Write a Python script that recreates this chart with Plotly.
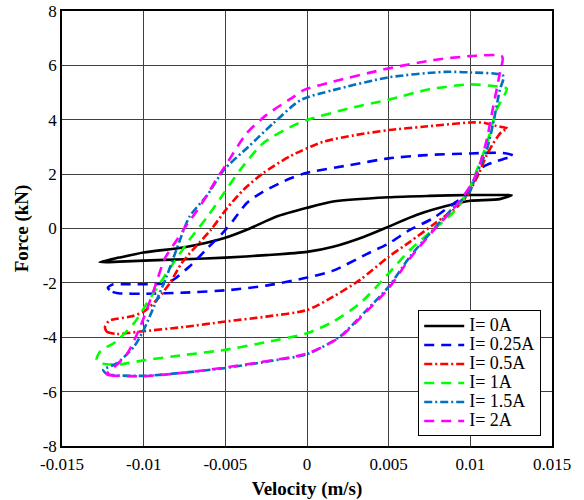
import plotly.graph_objects as go

# Force-velocity hysteresis loops of the damper at several coil currents.
# Each loop: lower branch (left -> right), then upper branch (right -> left).

v_0A = [-0.0127, -0.0115, -0.01, -0.0075, -0.005, -0.0025, 0.0, 0.0016, 0.0035, 0.005, 0.0067, 0.009, 0.01, 0.0118, 0.01253,
        0.0118, 0.01, 0.0075, 0.005, 0.0016, 0.0, -0.0019, -0.0035, -0.0051, -0.0075, -0.01, -0.0115, -0.0127]
f_0A = [-1.24, -1.22, -1.18, -1.13, -1.07, -0.98, -0.86, -0.67, -0.3, 0.07, 0.5, 0.9, 1.02, 1.08, 1.23,
        1.23, 1.23, 1.2, 1.15, 0.99, 0.76, 0.43, 0.0, -0.36, -0.69, -0.88, -1.07, -1.24]

v_025A = [-0.0122, -0.0119, -0.01155, -0.01, -0.0075, -0.0047, -0.0025, -0.0004, 0.0016, 0.00365, 0.005, 0.0063, 0.0077, 0.009,
          0.0096, 0.0102, 0.0108, 0.0115, 0.012, 0.01263,
          0.012, 0.01, 0.0073, 0.005, 0.0026, 0.0, -0.001, -0.0027, -0.0037, -0.0045, -0.0051, -0.0061, -0.0072, -0.0082,
          -0.0087, -0.0095, -0.011, -0.0119, -0.0122]
f_025A = [-2.18, -2.33, -2.38, -2.4, -2.36, -2.26, -2.1, -1.86, -1.55, -0.94, -0.55, -0.05, 0.37, 0.93,
          1.17, 1.75, 2.27, 2.45, 2.55, 2.68,
          2.78, 2.76, 2.7, 2.58, 2.33, 2.05, 1.85, 1.35, 0.93, 0.31, -0.12, -0.73, -1.4, -1.89,
          -2.01, -2.05, -2.05, -2.06, -2.18]

v_05A = [-0.01237, -0.01226, -0.01165, -0.0102, -0.0075, -0.0051, -0.0025, 0.0, 0.0016, 0.00325, 0.005, 0.0063, 0.0077, 0.0092,
         0.0098, 0.0105, 0.011, 0.0114, 0.0119, 0.01228,
         0.0116, 0.0108, 0.01, 0.0071, 0.005, 0.003, 0.001, -0.001, -0.0027, -0.0039, -0.0049, -0.0059, -0.007, -0.0077,
         -0.0084, -0.0092, -0.01, -0.0108, -0.0121, -0.01237]
f_05A = [-3.61, -3.79, -3.88, -3.79, -3.62, -3.43, -3.24, -3.0, -2.51, -1.89, -1.04, -0.49, 0.13, 0.8,
         1.2, 2.0, 2.7, 3.13, 3.55, 3.68,
         3.77, 3.89, 3.9, 3.74, 3.62, 3.44, 3.19, 2.67, 2.03, 1.42, 0.74, -0.06, -0.79, -1.3,
         -2.01, -2.63, -3.06, -3.24, -3.39, -3.61]

v_1A = [-0.01288, -0.0125, -0.0115, -0.01, -0.0075, -0.0051, -0.0025, 0.0, 0.0016, 0.00325, 0.005, 0.0063, 0.0077, 0.009,
        0.01, 0.0104, 0.0108, 0.0112, 0.0116, 0.01223,
        0.0118, 0.01, 0.0075, 0.005, 0.0026, 0.0, -0.001, -0.0027, -0.0041, -0.0051, -0.0061, -0.0072, -0.0081, -0.009,
        -0.0098, -0.0106, -0.0117, -0.01267, -0.01288]
f_1A = [-4.83, -4.97, -5.0, -4.85, -4.65, -4.47, -4.18, -3.85, -3.43, -2.75, -1.65, -0.79, -0.06, 0.62,
        1.54, 2.15, 2.76, 3.5, 4.36, 5.15,
        5.21, 5.3, 5.12, 4.74, 4.42, 3.99, 3.74, 3.13, 2.15, 1.29, 0.43, -0.42, -1.2, -2.01,
        -2.75, -3.49, -4.16, -4.53, -4.83]

v_15A = [-0.01247, -0.01226, -0.01, -0.0075, -0.0051, -0.0025, 0.0, 0.002, 0.00365, 0.005, 0.0063, 0.0077, 0.009,
         0.0099, 0.0104, 0.011, 0.0114, 0.0118, 0.01202,
         0.01, 0.0084, 0.005, 0.0016, -0.0004, -0.0021, -0.0036, -0.0051, -0.0061, -0.0072, -0.008, -0.0086,
         -0.0092, -0.01, -0.0106, -0.01165, -0.01247]
f_15A = [-5.2, -5.35, -5.42, -5.3, -5.14, -4.9, -4.62, -3.98, -3.0, -2.14, -1.04, -0.06, 0.8,
         1.29, 2.03, 2.89, 3.87, 5.09, 5.61,
         5.74, 5.76, 5.56, 5.09, 4.72, 3.85, 3.0, 2.15, 1.23, 0.43, -0.79, -1.77,
         -2.63, -3.73, -4.35, -4.96, -5.2]

v_2A = [-0.01226, -0.01206, -0.01, -0.0075, -0.0051, -0.0025, 0.0, 0.002, 0.00365, 0.005, 0.0063, 0.0077, 0.009,
        0.0101, 0.0106, 0.011, 0.0114, 0.0118, 0.01195,
        0.01, 0.0077, 0.005, 0.0016, -0.0002, -0.0008, -0.0025, -0.0037, -0.0049, -0.0055, -0.0062, -0.0068, -0.0074,
        -0.008, -0.0087, -0.0094, -0.0102, -0.011, -0.0118, -0.01226]
f_2A = [-5.35, -5.4, -5.43, -5.3, -5.12, -4.88, -4.6, -4.0, -3.05, -2.2, -1.1, -0.1, 0.75,
        1.66, 2.4, 3.25, 4.48, 5.7, 6.32,
        6.34, 6.19, 5.89, 5.4, 5.09, 4.85, 4.17, 3.5, 2.4, 1.85, 1.15, 0.6, 0.1,
        -0.45, -1.1, -2.3, -3.6, -4.6, -5.1, -5.35]

series_names = ["I= 0A", "I= 0.25A", "I= 0.5A", "I= 1A", "I= 1.5A", "I= 2A"]
series_v = [v_0A, v_025A, v_05A, v_1A, v_15A, v_2A]
series_f = [f_0A, f_025A, f_05A, f_1A, f_15A, f_2A]
series_colors = ["#000000", "#0000FF", "#FF0000", "#00FF00", "#0070C0", "#FF00FF"]
series_dash = ["solid", "10px,7px", "8px,3px,2px,3px", "10px,7px", "8px,3px,2px,3px", "10px,7px"]

x_ticks = [-0.015, -0.01, -0.005, 0, 0.005, 0.01, 0.015]
x_tick_text = ["-0.015", "-0.01", "-0.005", "0", "0.005", "0.01", "0.015"]
y_ticks = [-8, -6, -4, -2, 0, 2, 4, 6, 8]
y_tick_text = ["-8", "-6", "-4", "-2", "0", "2", "4", "6", "8"]

serif = "'Times New Roman', 'Liberation Serif', 'DejaVu Serif', serif"

fig = go.Figure()
for name, vx, fy, col, dash in zip(series_names, series_v, series_f, series_colors, series_dash):
    fig.add_trace(go.Scatter(
        x=vx, y=fy, mode="lines",
        # compact legend rows (small legend font) with full-size label text
        name=f'<span style="font-size:18px">{name}</span>',
        line=dict(color=col, width=2.6, dash=dash, shape="spline", smoothing=0.7),
    ))

axis_common = dict(
    showgrid=True, gridcolor="#404040", gridwidth=1.2,
    showline=True, linecolor="#000000", linewidth=1.5, mirror=True,
    zeroline=False, ticks="", tickfont=dict(family=serif, size=17, color="#000000"),
    automargin=False,
)

fig.update_layout(
    width=584, height=500,
    margin=dict(l=62, r=32, t=11, b=54),
    paper_bgcolor="white", plot_bgcolor="white",
    font=dict(family=serif, color="#000000"),
    xaxis=dict(range=[-0.015, 0.015], tickvals=x_ticks, ticktext=x_tick_text, ticklabelstandoff=2,
               title=dict(text="<b>Velocity (m/s)</b>", font=dict(family=serif, size=19), standoff=9),
               **axis_common),
    yaxis=dict(range=[-8, 8], tickvals=y_ticks, ticktext=y_tick_text,
               title=dict(text="<b>Force (kN)</b>", font=dict(family=serif, size=19), standoff=9),
               **axis_common),
    legend=dict(x=0.978, y=0.022, xanchor="right", yanchor="bottom",
                bgcolor="white", bordercolor="#000000", borderwidth=1,
                font=dict(family=serif, size=12, color="#000000"), tracegroupgap=0, itemwidth=40),
    showlegend=True,
)

fig.write_html("out.html")
